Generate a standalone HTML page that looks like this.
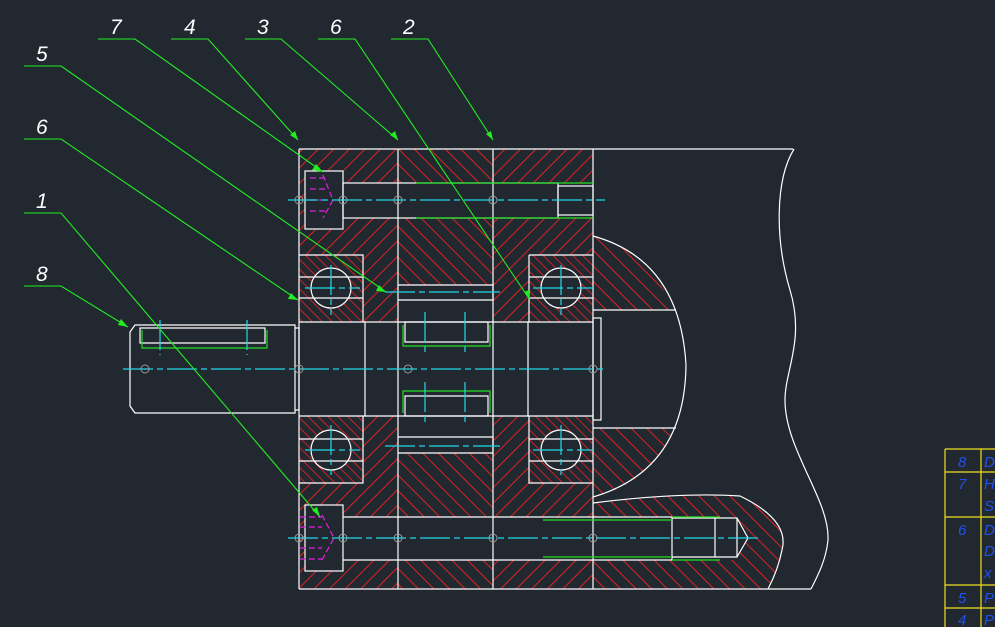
<!DOCTYPE html><html><head><style>html,body{margin:0;padding:0;background:#212830;}svg{display:block}</style></head><body>
<svg width="995" height="627" viewBox="0 0 995 627" xmlns="http://www.w3.org/2000/svg">
<defs>
<pattern id="hA" width="11" height="11" patternUnits="userSpaceOnUse" patternTransform="rotate(45)"><line x1="0" y1="0" x2="0" y2="11" stroke="#ff2020" stroke-width="1.7"/></pattern>
<pattern id="hB" width="11" height="11" patternUnits="userSpaceOnUse" patternTransform="rotate(-45)"><line x1="0" y1="0" x2="0" y2="11" stroke="#ff2020" stroke-width="1.7"/></pattern>
<pattern id="hC" width="7" height="7" patternUnits="userSpaceOnUse" patternTransform="rotate(-45)"><line x1="0" y1="0" x2="0" y2="7" stroke="#ff2020" stroke-width="1.5"/></pattern>
</defs>
<rect width="995" height="627" fill="#212830"/>
<g stroke="none">
<rect x="299" y="149" width="99" height="106" fill="url(#hA)"/>
<rect x="398" y="149" width="95" height="136" fill="url(#hB)"/>
<rect x="493" y="149" width="100" height="106" fill="url(#hA)"/>
<rect x="363" y="255" width="35" height="67" fill="url(#hA)"/>
<rect x="493" y="255" width="36" height="67" fill="url(#hA)"/>
<rect x="299" y="255" width="64" height="67" fill="url(#hC)"/>
<rect x="529" y="255" width="64" height="67" fill="url(#hC)"/>
<rect x="299" y="416" width="64" height="67" fill="url(#hC)"/>
<rect x="529" y="416" width="64" height="67" fill="url(#hC)"/>
<rect x="363" y="416" width="35" height="67" fill="url(#hA)"/>
<rect x="493" y="416" width="36" height="67" fill="url(#hA)"/>
<rect x="398" y="453" width="95" height="136" fill="url(#hB)"/>
<rect x="299" y="483" width="99" height="106" fill="url(#hA)"/>
<rect x="493" y="483" width="100" height="106" fill="url(#hA)"/>
<path d="M593 236 Q640 245 676 310 L593 310Z" fill="url(#hB)"/>
<path d="M593 428 L676 428 Q650 485 593 497Z" fill="url(#hB)"/>
<path d="M593 503 Q680 492 740 496 Q790 520 782 550 Q778 570 768 589 L593 589Z" fill="url(#hB)"/>
</g>
<g fill="#212830">
<rect x="343" y="183" width="250" height="35"/>
<rect x="305" y="171" width="38" height="58"/>
<rect x="343" y="517" width="394" height="43"/>
<polygon points="737,518 748,538 737,557"/>
<rect x="305" y="505" width="38" height="66"/>
<circle cx="331" cy="288" r="20"/><circle cx="561" cy="288" r="20"/>
<circle cx="331" cy="450" r="20"/><circle cx="561" cy="450" r="20"/>
<rect x="299" y="322" width="300" height="94"/>
<rect x="398" y="285" width="95" height="37"/><rect x="398" y="416" width="95" height="37"/>
</g>
<g fill="none" stroke="#fff" stroke-width="1.2">
<path d="M299 149 H793 M299 589 H811 M299 149 V589 M398 149 V589 M493 149 V589 M593 149 V589"/>
<path d="M794 149 C775 180 775 240 790 290 C805 340 785 370 785 400 C785 450 830 500 828 540 C826 560 818 575 811 589"/>
<rect x="305" y="171" width="38" height="58"/><rect x="343" y="183" width="215" height="35"/><rect x="558" y="186" width="35" height="29"/>
<rect x="305" y="505" width="38" height="66"/>
<path d="M343 517 H672 V560 H343 M672 518 H737 V557 H672 M715 518 V557 M737 518 L748 538 L737 557"/>
<path d="M299 255 H363 V322 M299 322 H593 M529 255 H593 M529 255 V322 M299 416 H593 M363 416 V483 H299 M529 416 V483 H593"/>
<path d="M299 277 H363 M299 298 H363 M529 277 H593 M529 298 H593 M299 439 H363 M299 461 H363 M529 439 H593 M529 461 H593"/>
<circle cx="331" cy="288" r="20"/><circle cx="561" cy="288" r="20"/><circle cx="331" cy="450" r="20"/><circle cx="561" cy="450" r="20"/>
<path d="M398 285 H493 V300 H398 M398 437 H493 V453 H398"/>
<path d="M365 322 V416 M528 322 V416"/>
<path d="M130 332 L135 325 H295 V413 H135 L130 406Z M295 328 H299 V410 H295"/>
<rect x="593" y="318" width="8" height="102"/>
<path d="M593 236 Q680 260 686 365 Q685 470 593 497"/>
<path d="M593 310 H676 M593 428 H676"/>
<path d="M593 503 Q680 492 740 496 Q790 520 782 550 Q778 570 768 589"/>
<path d="M140 328 H265 V343 H140Z M405 322 H488 V342 H405Z M405 396 H488 V416 H405Z"/>
</g>
<g fill="none" stroke="#22dd22" stroke-width="1.2">
<path d="M142 330 V348 H267 V330 M403 325 V346 H490 V325 M403 413 V391 H490 V413 M416 183 H593 M416 218 H593 M543 520 H672 M543 557 H672 M672 517 H720 M672 560 H720"/>
</g>
<g fill="none" stroke="#e020e0" stroke-width="1.2" stroke-dasharray="6 3">
<path d="M310 178 H325 M310 189 H325 M310 200 H325 M310 211 H325 M323 175 L333 200 L323 218 M300 517 H322 M300 527 H322 M300 548 H322 M300 559 H322 M322 515 L334 538 L322 560"/>
</g>
<g stroke="#22d8e8" stroke-width="1.2" stroke-dasharray="30 4 6 4" fill="none">
<path d="M288 200 H605 M288 538 H760 M123 369 H607 M305 288 H360 M533 288 H593 M305 450 H360 M533 450 H593 M385 292 H500 M385 446 H500"/>
<path d="M331 265 V315 M561 265 V315 M331 425 V475 M561 425 V475 M160 320 V355 M247 320 V355 M425 312 V355 M465 312 V355 M425 382 V425 M465 382 V425"/>
</g>
<g stroke="#999" fill="none"><circle cx="299" cy="200" r="4"/><circle cx="343" cy="200" r="4"/><circle cx="398" cy="200" r="4"/><circle cx="493" cy="200" r="4"/><circle cx="299" cy="538" r="4"/><circle cx="343" cy="538" r="4"/><circle cx="398" cy="538" r="4"/><circle cx="493" cy="538" r="4"/><circle cx="593" cy="538" r="4"/><circle cx="145" cy="369" r="4"/><circle cx="299" cy="369" r="4"/><circle cx="408" cy="369" r="4"/><circle cx="593" cy="369" r="4"/></g>
<g stroke="#22ee22" stroke-width="1.1" fill="none">
<path d="M98 39 H135 L323 172 M171 39 H208 L298 140 M245 39 H281 L398 140 M318 39 H355 L530 300 M391 39 H428 L493 140 M24 66 H61 L386 292 M24 139 H61 L298 300 M24 213 H61 L320 517 M24 286 H61 L128 327"/>
</g>
<g fill="#22ee22"><polygon points="323,172 312,170 316,164"/><polygon points="298,140 290,135 295,131"/><polygon points="398,140 390,135 395,131"/><polygon points="493,140 486,134 491,131"/><polygon points="530,300 524,292 529,290"/><polygon points="386,292 376,291 379,285"/><polygon points="298,300 288,299 291,293"/><polygon points="320,517 312,510 317,507"/><polygon points="128,327 118,325 121,319"/></g>
<g fill="#fff" font-family="Liberation Sans, sans-serif" font-style="italic" font-size="21">
<text x="110" y="34">7</text><text x="184" y="34">4</text><text x="257" y="34">3</text><text x="330" y="34">6</text><text x="403" y="34">2</text>
<text x="36" y="61">5</text><text x="36" y="134">6</text><text x="36" y="208">1</text><text x="36" y="281">8</text>
</g>
<g stroke="#f0e020" stroke-width="1.2" fill="none"><path d="M945 449 H995 M945 472 H995 M945 517 H995 M945 585 H995 M945 608 H995 M945 449 V627 M981 449 V627"/></g>
<g fill="#2050f0" font-family="Liberation Sans, sans-serif" font-style="italic" font-size="15">
<text x="958" y="467">8</text><text x="958" y="489">7</text><text x="958" y="535">6</text><text x="958" y="603">5</text><text x="958" y="625">4</text>
<text x="984" y="467">D</text><text x="984" y="489">H</text><text x="984" y="511">S</text><text x="984" y="535">D</text><text x="984" y="556">D</text><text x="984" y="578">x</text><text x="984" y="603">P</text><text x="984" y="625">P</text>
</g>
</svg></body></html>
